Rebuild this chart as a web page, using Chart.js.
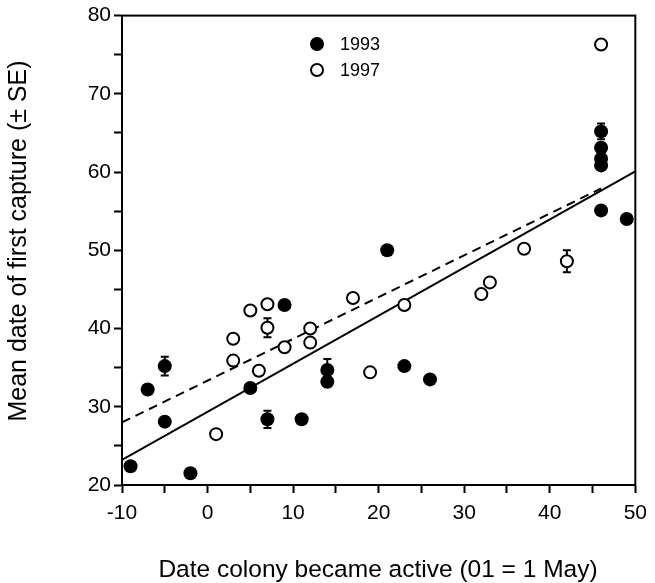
<!DOCTYPE html>
<html>
<head>
<meta charset="utf-8">
<script src="https://cdn.jsdelivr.net/npm/chart.js@4"></script>
<style>
  html, body { margin: 0; padding: 0; background: #fff; }
  canvas { display: block; }
</style>
</head>
<body>
<canvas id="c" width="655" height="583"></canvas>
<script>
// ---- data ----
const x1993 = [-9, -7, -5, -5, -2, 5, 7, 9, 11, 14, 14, 21, 23, 26, 46, 46, 46, 46, 46, 49];
const y1993 = [22.4, 32.2, 35.2, 28.1, 21.5, 32.4, 28.4, 43.0, 28.4, 34.7, 33.2, 50.0, 35.2, 33.5, 65.2, 63.1, 61.7, 60.85, 55.1, 54.0];
const se1993 = [0, 0, 1.2, 0, 0, 0, 1.1, 0, 0, 1.4, 0, 0, 0, 0, 1.0, 0, 0, 0, 0, 0];

const x1997 = [1, 3, 3, 5, 6, 7, 7, 9, 12, 12, 17, 19, 23, 32, 33, 37, 42, 46];
const y1997 = [26.5, 38.7, 35.9, 42.3, 34.6, 43.1, 40.1, 37.6, 40.0, 38.2, 43.9, 34.4, 43.0, 44.4, 45.9, 50.2, 48.6, 76.3];
const se1997 = [0, 0, 0, 0, 0, 0, 1.2, 0, 0, 0, 0, 0, 0, 0, 0, 0, 1.4, 0];

// regression line end points
const fitAllX = [-10, 50];
const fitAllY = [23.2, 60.1];
const fit1997X = [-10, 46];
const fit1997Y = [28.0, 57.9];

const seriesLabels = ['1993', '1997'];
const xTitle = 'Date colony became active (01 = 1 May)';
const yTitle = 'Mean date of first capture (\u00B1 SE)';

const FONT = '"Liberation Sans", Arial, Helvetica, sans-serif';

function pts(xs, ys) { return xs.map((x, i) => ({x: x, y: ys[i]})); }

const errorBars = {
  id: 'errorBars',
  beforeDatasetsDraw(chart) {
    const ctx = chart.ctx, xs = chart.scales.x, ys = chart.scales.y;
    ctx.save();
    ctx.strokeStyle = '#000';
    ctx.lineWidth = 2;
    [[x1993, y1993, se1993], [x1997, y1997, se1997]].forEach(([X, Y, E]) => {
      X.forEach((x, i) => {
        if (!E[i]) return;
        const px = xs.getPixelForValue(x);
        const pTop = ys.getPixelForValue(Y[i] + E[i]);
        const pBot = ys.getPixelForValue(Y[i] - E[i]);
        ctx.beginPath();
        ctx.moveTo(px, pTop); ctx.lineTo(px, pBot);
        ctx.moveTo(px - 4, pTop); ctx.lineTo(px + 4, pTop);
        ctx.moveTo(px - 4, pBot); ctx.lineTo(px + 4, pBot);
        ctx.stroke();
      });
    });
    ctx.restore();
  }
};

const decor = {
  id: 'decor',
  afterDraw(chart) {
    const ctx = chart.ctx, a = chart.chartArea;
    ctx.save();
    ctx.strokeStyle = '#000';
    ctx.lineWidth = 2;
    ctx.strokeRect(a.left, a.top, a.right - a.left, a.bottom - a.top);
    // legend
    ctx.fillStyle = '#000';
    ctx.beginPath(); ctx.arc(317, 44, 7, 0, Math.PI * 2); ctx.fill();
    ctx.beginPath(); ctx.arc(317, 70, 6, 0, Math.PI * 2);
    ctx.fillStyle = '#fff'; ctx.fill(); ctx.stroke();
    ctx.fillStyle = '#000';
    ctx.font = '18px ' + FONT;
    ctx.textBaseline = 'middle';
    ctx.textAlign = 'left';
    ctx.fillText(seriesLabels[0], 340, 45);
    ctx.fillText(seriesLabels[1], 340, 71);
    // axis titles
    ctx.font = '24.5px ' + FONT;
    ctx.textAlign = 'center';
    ctx.textBaseline = 'alphabetic';
    ctx.fillText(xTitle, 378, 577);
    ctx.font = '25px ' + FONT;
    ctx.translate(26, 241);
    ctx.rotate(-Math.PI / 2);
    ctx.fillText(yTitle, 0, 0);
    ctx.restore();
  }
};

const tickFont = {family: FONT, size: 21};

new Chart(document.getElementById('c'), {
  type: 'scatter',
  data: {
    datasets: [
      {
        label: seriesLabels[0], data: pts(x1993, y1993), order: 1,
        pointRadius: 7, pointHoverRadius: 7, backgroundColor: '#000', borderColor: '#000', borderWidth: 0
      },
      {
        label: seriesLabels[1], data: pts(x1997, y1997), order: 1,
        pointRadius: 6, pointHoverRadius: 6, backgroundColor: '#fff', borderColor: '#000', borderWidth: 2
      },
      {
        type: 'line', label: 'fit all', data: pts(fitAllX, fitAllY), order: 5,
        borderColor: '#000', borderWidth: 2, pointRadius: 0, fill: false
      },
      {
        type: 'line', label: 'fit 1997', data: pts(fit1997X, fit1997Y), order: 5,
        borderColor: '#000', borderWidth: 2, borderDash: [9, 6], pointRadius: 0, fill: false
      }
    ]
  },
  options: {
    responsive: false,
    animation: false,
    events: [],
    layout: {padding: {top: 14, right: 14, left: 0, bottom: 0}},
    plugins: {legend: {display: false}, tooltip: {enabled: false}},
    scales: {
      x: {
        type: 'linear', min: -10, max: 50,
        afterFit(s) { s.height = 98; },
        border: {color: '#000', width: 2},
        grid: {drawOnChartArea: false, drawTicks: true, tickLength: 8, color: '#000', tickWidth: 2},
        ticks: {
          stepSize: 5, autoSkip: false, maxRotation: 0, padding: 8, color: '#000', font: tickFont,
          callback: v => (v % 10 === 0 ? String(v) : '')
        }
      },
      y: {
        type: 'linear', min: 20, max: 80,
        afterFit(s) { s.width = 122; },
        border: {color: '#000', width: 2},
        grid: {drawOnChartArea: false, drawTicks: true, tickLength: 8, color: '#000', tickWidth: 2},
        ticks: {
          stepSize: 5, autoSkip: false, padding: 3, color: '#000', font: tickFont,
          callback: v => (v % 10 === 0 ? String(v) : '')
        }
      }
    }
  },
  plugins: [errorBars, decor]
});
</script>
</body>
</html>
